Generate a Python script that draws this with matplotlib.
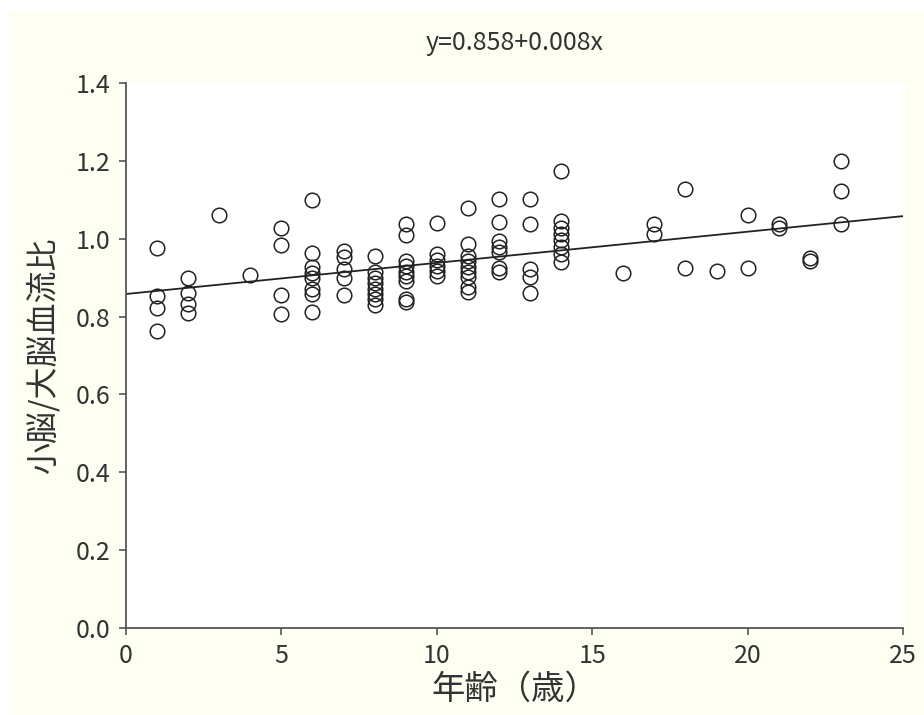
import matplotlib
matplotlib.use("Agg")
import matplotlib.pyplot as plt
import numpy as np

plt.rcParams['font.family'] = ['Noto Sans CJK JP', 'DejaVu Sans']

# age (years) and cerebellum / cerebrum blood flow ratio
age = [1, 1, 1, 1,
       2, 2, 2, 2,
       3,
       4,
       5, 5, 5, 5,
       6, 6, 6, 6, 6, 6, 6, 6,
       7, 7, 7, 7, 7,
       8, 8, 8, 8, 8, 8, 8, 8,
       9, 9, 9, 9, 9, 9, 9, 9, 9,
       10, 10, 10, 10, 10, 10,
       11, 11, 11, 11, 11, 11, 11, 11, 11,
       12, 12, 12, 12, 12, 12, 12,
       13, 13, 13, 13, 13,
       14, 14, 14, 14, 14, 14, 14, 14,
       16,
       17, 17,
       18, 18,
       19,
       20, 20,
       21, 21,
       22, 22,
       23, 23, 23]
ratio = [0.977, 0.853, 0.821, 0.763,
         0.899, 0.860, 0.832, 0.809,
         1.062,
         0.907,
         1.027, 0.985, 0.855, 0.807,
         1.099, 0.963, 0.928, 0.912, 0.900, 0.871, 0.858, 0.811,
         0.968, 0.954, 0.921, 0.900, 0.855,
         0.955, 0.915, 0.900, 0.887, 0.870, 0.857, 0.844, 0.831,
         1.038, 1.009, 0.944, 0.929, 0.915, 0.903, 0.892, 0.845, 0.837,
         1.041, 0.961, 0.946, 0.930, 0.917, 0.905,
         1.078, 0.987, 0.955, 0.943, 0.928, 0.915, 0.902, 0.875, 0.862,
         1.103, 1.042, 0.993, 0.978, 0.965, 0.926, 0.914,
         1.103, 1.038, 0.922, 0.901, 0.860,
         1.173, 1.045, 1.028, 1.012, 0.997, 0.978, 0.961, 0.941,
         0.911,
         1.039, 1.012,
         1.127, 0.926,
         0.918,
         1.062, 0.924,
         1.038, 1.027,
         0.950, 0.942,
         1.200, 1.123, 1.038]

intercept = 0.858
slope = 0.008

xticks = [0, 5, 10, 15, 20, 25]
yticks = [0.0, 0.2, 0.4, 0.6, 0.8, 1.0, 1.2, 1.4]

bg = '#fffef2'
ink = '#333333'

fig = plt.figure(figsize=(9.24, 7.15), dpi=100, facecolor=bg)
# thin white strip along the top and left edge of the original image
fig.patches.append(plt.Rectangle((0, 1 - 12 / 715), 1, 12 / 715, transform=fig.transFigure,
                                 facecolor='white', edgecolor='none', zorder=-1))
fig.patches.append(plt.Rectangle((0, 0), 9 / 924, 1, transform=fig.transFigure,
                                 facecolor='white', edgecolor='none', zorder=-1))

ax = fig.add_axes([126 / 924, 87 / 715, (903 - 126) / 924, (628 - 83) / 715])
ax.set_facecolor('white')

xs = np.array([0, 25])
ax.plot(xs, intercept + slope * xs, color='#222222', lw=1.3, zorder=2)
ax.plot(age, ratio, 'o', ms=10.5, mfc='none', mec='#222222', mew=1.1, zorder=3)

ax.set_xlim(0, 25)
ax.set_ylim(0, 1.4)
ax.set_xticks(xticks)
ax.set_yticks(yticks)
ax.set_yticklabels([f'{v:.1f}' for v in yticks])

for s in ['top', 'right']:
    ax.spines[s].set_visible(False)
for s in ['left', 'bottom']:
    ax.spines[s].set_color('#555555')
    ax.spines[s].set_linewidth(1.3)

ax.tick_params(direction='out', length=5, width=1.2, color='#555555',
               labelsize=18, labelcolor=ink, pad=6)

ax.set_title('y=0.858+0.008x', fontsize=18, color=ink, pad=24)
ax.set_xlabel('年齢（歳）', fontsize=24, color=ink, labelpad=2)
ax.set_ylabel('小脳/大脳血流比', fontsize=23, color=ink, labelpad=12)

fig.savefig('out.png', dpi=100, facecolor=bg)
